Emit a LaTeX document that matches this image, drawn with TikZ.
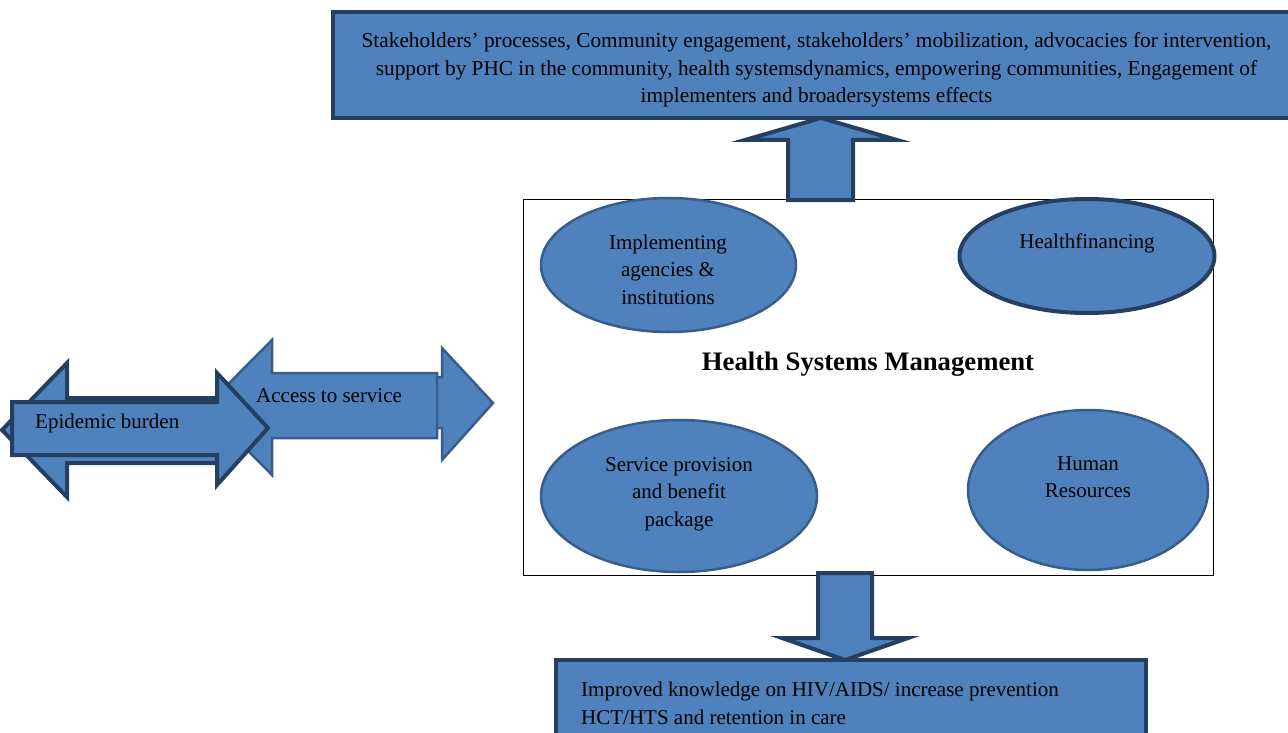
\documentclass[tikz,border=0pt]{standalone}
\usepackage{fontspec}
\setmainfont{Liberation Serif}
\usetikzlibrary{shapes.geometric}
\definecolor{boxfill}{HTML}{4F81BD}
\definecolor{darkedge}{HTML}{243F60}
\definecolor{midedge}{HTML}{385D8A}
\begin{document}
\begin{tikzpicture}[x=1pt,y=-1pt,
  txt/.style={font=\fontsize{21}{27.5}\selectfont, align=center, inner sep=0pt},
  darkblock/.style={fill=boxfill, draw=darkedge, line width=4pt, line join=miter},
  midblock/.style={fill=boxfill, draw=midedge, line width=2.5pt, line join=miter},
  oval/.style={ellipse, fill=boxfill, draw=midedge, line width=2.5pt, inner sep=0pt, outer sep=0pt},
  panel/.style={fill=boxfill, draw=darkedge, line width=4pt, inner sep=0pt, outer sep=0pt, anchor=north west}]
\useasboundingbox (0,0) rectangle (1288,733);

% central management box
\node[draw=black, line width=1pt, minimum width=690, minimum height=376, inner sep=0pt, outer sep=0pt] (hsm) at (868,387) {};

% outcome panels
\node[panel, minimum width=967, minimum height=106] (topbox) at (333,12) {};
\node[panel, minimum width=590, minimum height=90] (botbox) at (556,660) {};

\node[txt, font=\fontsize{21.3}{27.5}\selectfont] (toptext) at (816.5,70) {Stakeholders’ processes, Community engagement, stakeholders’ mobilization, advocacies for intervention,\\
support by PHC in the community, health systemsdynamics, empowering communities, Engagement of\\
implementers and broadersystems effects};
\node[txt, align=left, anchor=west] (bottext) at (581,703.5) {Improved knowledge on HIV/AIDS/ increase prevention\\
HCT/HTS and retention in care};

% block arrows between the management box and the panels
\path[darkblock] (788,200) -- (788,140) -- (745,140) -- (821,118) -- (897,140) -- (853,140) -- (853,200) -- cycle;
\path[darkblock] (818,573) -- (818,638) -- (782,638) -- (845,660) -- (908,638) -- (872,638) -- (872,573) -- cycle;

% system components
\node[oval, minimum width=255, minimum height=134] (impl) at (668.5,265) {};
\node[oval, draw=darkedge, line width=4pt, minimum width=255, minimum height=114] (fin) at (1087,256) {};
\node[oval, minimum width=276, minimum height=152] (serv) at (679,496) {};
\node[oval, minimum width=240, minimum height=160] (hr) at (1088,490) {};

\node[txt] (impltext) at (668,269.5) {Implementing\\agencies \&\\institutions};
\node[txt] (fintext) at (1087,243) {Healthfinancing};
\node[txt] (servtext) at (679,494) {Service provision\\and benefit\\package};
\node[txt] (hrtext) at (1088,477) {Human\\Resources};
\node[txt, font=\fontsize{26.7}{30}\selectfont\bfseries] (hsmtitle) at (868,364) {Health Systems Management};

% access to service: two-way arrow
\path[midblock] (430,377) -- (442,377) -- (442,348) -- (493,403) -- (442,460) -- (442,428) -- (430,428) -- cycle;
\path[midblock] (437,373) -- (272,373) -- (272,340) -- (205,407.5) -- (272,475) -- (272,438) -- (437,438) -- cycle;
\node[txt, anchor=west] (access) at (256,395.5) {Access to service};

% epidemic burden: two-way arrow
\path[darkblock] (2,430) -- (67,363) -- (67,398) -- (217,398) -- (217,463) -- (67,463) -- (67,497) -- cycle;
\path[darkblock] (12,402) -- (217,402) -- (217,373) -- (268,428) -- (217,485) -- (217,455) -- (12,455) -- cycle;
\node[txt, anchor=west] (epi) at (35,423.5) {Epidemic burden};
\end{tikzpicture}
\end{document}
